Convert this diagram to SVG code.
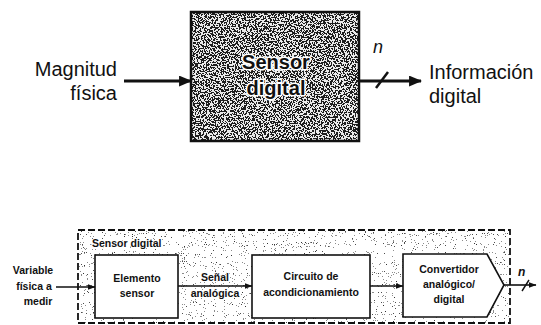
<svg xmlns="http://www.w3.org/2000/svg" width="541" height="325" viewBox="0 0 541 325">
  <style>
    .lbl { font-family: "Liberation Sans", Arial, sans-serif; fill: #111; }
    .big { font-size: 20px; }
    .small { font-size: 10.5px; font-weight: bold; }
    .halo { paint-order: stroke; stroke: #fff; stroke-linejoin: round; }
    .box { fill: #fff; stroke: #111; stroke-width: 1.6; }
    .wire { fill: none; stroke: #111; }
  </style>
  <defs>
    <!-- coarse black/white grain for the single sensor block -->
    <filter id="grain" x="0" y="0" width="100%" height="100%" color-interpolation-filters="sRGB">
      <feTurbulence type="fractalNoise" baseFrequency="0.65" numOctaves="2" seed="7"/>
      <feColorMatrix type="matrix" values="1 0 0 0 0  1 0 0 0 0  1 0 0 0 0  0 0 0 0 1"/>
      <feComponentTransfer>
        <feFuncR type="discrete" tableValues="0.12 0.92"/>
        <feFuncG type="discrete" tableValues="0.12 0.92"/>
        <feFuncB type="discrete" tableValues="0.12 0.92"/>
      </feComponentTransfer>
    </filter>
    <!-- sparse speckle for the dashed enclosure -->
    <filter id="speckle" x="0" y="0" width="100%" height="100%" color-interpolation-filters="sRGB">
      <feTurbulence type="fractalNoise" baseFrequency="0.9" numOctaves="2" seed="3"/>
      <feColorMatrix type="matrix" values="1 0 0 0 0  1 0 0 0 0  1 0 0 0 0  0 0 0 0 1"/>
      <feComponentTransfer>
        <feFuncR type="discrete" tableValues="1 1 1 1 1 1 1 1 1 1 1 0.55 0.3 0.2 0.2 0.2"/>
        <feFuncG type="discrete" tableValues="1 1 1 1 1 1 1 1 1 1 1 0.55 0.3 0.2 0.2 0.2"/>
        <feFuncB type="discrete" tableValues="1 1 1 1 1 1 1 1 1 1 1 0.55 0.3 0.2 0.2 0.2"/>
      </feComponentTransfer>
    </filter>
    <marker id="headBig" viewBox="0 0 12 10" refX="11" refY="5" markerUnits="userSpaceOnUse" markerWidth="13" markerHeight="11" orient="auto">
      <path d="M0,0 L12,5 L0,10 Z" fill="#111"/>
    </marker>
    <marker id="headSmall" viewBox="0 0 8 6" refX="7.5" refY="3" markerUnits="userSpaceOnUse" markerWidth="8" markerHeight="6" orient="auto">
      <path d="M0,0 L8,3 L0,6 Z" fill="#111"/>
    </marker>
  </defs>

  <!-- upper block diagram: single digital sensor -->
  <g id="sensor-block">
    <rect x="191" y="12" width="168" height="129" fill="#888" filter="url(#grain)"/>
    <rect x="191" y="12" width="168" height="129" fill="none" stroke="#111" stroke-width="2.5"/>
    <text class="lbl big halo" x="276" y="69" text-anchor="middle" font-weight="bold" stroke-width="3">Sensor</text>
    <text class="lbl big halo" x="276" y="95" text-anchor="middle" font-weight="bold" stroke-width="3">digital</text>
  </g>
  <g id="input-label">
    <text class="lbl big" x="117" y="76" text-anchor="end">Magnitud</text>
    <text class="lbl big" x="117" y="100" text-anchor="end">física</text>
  </g>
  <g id="output-label">
    <text class="lbl big" x="429" y="79" text-anchor="start">Información</text>
    <text class="lbl big" x="429" y="103" text-anchor="start">digital</text>
    <text class="lbl" x="373" y="53" font-size="18" font-style="italic">n</text>
  </g>

  <!-- lower block diagram: internal structure of the digital sensor -->
  <g id="sensor-enclosure">
    <rect x="78" y="230" width="432" height="93" fill="#fff" filter="url(#speckle)"/>
    <rect x="78" y="230" width="432" height="93" fill="none" stroke="#111" stroke-width="1.8" stroke-dasharray="7 3"/>
    <text class="lbl small halo" x="92" y="247" stroke-width="2">Sensor digital</text>
  </g>
  <g id="input-variable">
    <text class="lbl small" x="33" y="274" text-anchor="middle">Variable</text>
    <text class="lbl small" x="34" y="290" text-anchor="middle">física a</text>
    <text class="lbl small" x="38" y="305" text-anchor="middle">medir</text>
  </g>
  <g id="elemento-sensor">
    <rect class="box" x="95" y="255" width="83" height="63"/>
    <text class="lbl small" x="137" y="282" text-anchor="middle">Elemento</text>
    <text class="lbl small" x="137" y="297" text-anchor="middle">sensor</text>
  </g>
  <g id="signal-label">
    <text class="lbl small halo" x="215" y="281" text-anchor="middle" stroke-width="2">Señal</text>
    <text class="lbl small halo" x="215" y="297" text-anchor="middle" stroke-width="2">analógica</text>
  </g>
  <g id="acondicionamiento">
    <rect class="box" x="252" y="255" width="118" height="63"/>
    <text class="lbl small" x="311" y="280" text-anchor="middle">Circuito de</text>
    <text class="lbl small" x="311" y="296" text-anchor="middle">acondicionamiento</text>
  </g>
  <g id="convertidor">
    <path class="box" d="M403,254 L487,254 L504,285 L487,317 L403,317 Z"/>
    <text class="lbl small" x="449" y="273" text-anchor="middle">Convertidor</text>
    <text class="lbl small" x="449" y="288" text-anchor="middle">analógico/</text>
    <text class="lbl small" x="449" y="303" text-anchor="middle">digital</text>
  </g>
  <g id="bus-width">
    <text class="lbl" x="518" y="276" font-size="12" font-style="italic" font-weight="bold">n</text>
  </g>

  <g id="connectors">
    <line class="wire" x1="124" y1="81" x2="191" y2="81" stroke-width="3" marker-end="url(#headBig)"/>
    <line class="wire" x1="359" y1="81" x2="421" y2="81" stroke-width="3" marker-end="url(#headBig)"/>
    <line class="wire" x1="376" y1="88" x2="388" y2="72" stroke-width="2.5"/>
    <line class="wire" x1="56" y1="287" x2="95" y2="287" stroke-width="1.6" marker-end="url(#headSmall)"/>
    <line class="wire" x1="178" y1="286" x2="252" y2="286" stroke-width="1.6" marker-end="url(#headSmall)"/>
    <line class="wire" x1="370" y1="286" x2="403" y2="286" stroke-width="1.6" marker-end="url(#headSmall)"/>
    <line class="wire" x1="504" y1="285" x2="536" y2="285" stroke-width="1.6" marker-end="url(#headSmall)"/>
    <line class="wire" x1="522" y1="291" x2="529" y2="280" stroke-width="1.4"/>
  </g>
</svg>
